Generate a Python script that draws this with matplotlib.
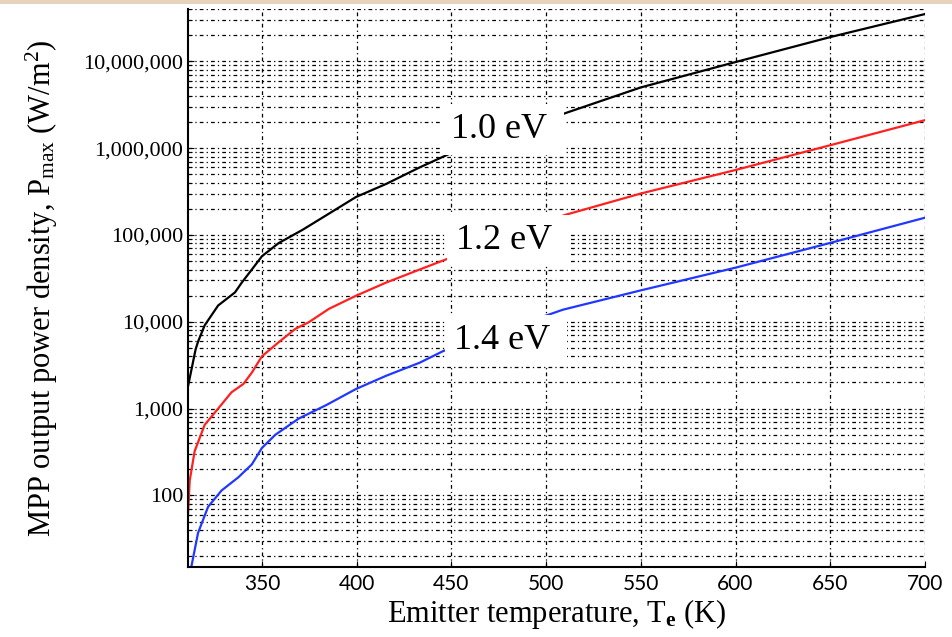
import matplotlib
matplotlib.use("Agg")
import matplotlib.pyplot as plt
from matplotlib.patches import Rectangle
from matplotlib.ticker import LogLocator, FuncFormatter, NullFormatter

plt.rcParams['font.family'] = 'serif'
plt.rcParams['font.serif'] = ['Liberation Serif', 'DejaVu Serif']
plt.rcParams['mathtext.fontset'] = 'custom'
plt.rcParams['mathtext.rm'] = 'Liberation Serif'
plt.rcParams['mathtext.it'] = 'Liberation Serif:italic'
plt.rcParams['mathtext.bf'] = 'Liberation Serif:bold'

# emitter temperature (K) and MPP power density (W/m^2)
temp_10 = [311.0, 313.6, 315.0, 316.3, 319.8, 326.9, 335.8, 339.4, 344.7, 350.0,
           358.8, 371.3, 385.4, 399.6, 415.6, 433.3, 451.0, 511.8, 550.0, 600.0,
           650.0, 700.0]
pmax_10 = [1800, 3400, 4800, 5900, 9100, 15400, 21800, 28300, 40000, 56800,
           80500, 114000, 176000, 273000, 387000, 600000, 900000, 2.6e6, 5.0e6, 9.8e6,
           1.9e7, 3.5e7]

temp_12 = [311.0, 311.9, 314.5, 319.8, 326.9, 334.0, 340.2, 344.7, 350.0, 358.8,
           367.7, 374.8, 385.4, 399.6, 415.6, 433.3, 449.3, 510.0, 550.0, 600.0,
           650.0, 700.0]
pmax_12 = [61, 148, 323, 650, 1000, 1545, 1920, 2600, 4000, 5800,
           8300, 9900, 14100, 19900, 28300, 40000, 54500, 170000, 300000, 560000,
           1.08e6, 2.1e6]

temp_14 = [312.6, 316.3, 321.6, 328.7, 337.6, 344.7, 350.0, 357.1, 369.5, 383.7,
           399.6, 415.6, 433.3, 445.7, 509.0, 550.0, 600.0, 650.0, 700.0]
pmax_14 = [14.5, 37, 74, 114, 162, 228, 352, 500, 770, 1090,
           1680, 2390, 3380, 4600, 13800, 23000, 42000, 81000, 158000]

labels = ['1.0 eV ', '1.2 eV ', '1.4 eV ']
label_temp = [449.6, 452.3, 451.2]
label_pmax = [1.30e6, 69000, 4900]
colors = ['black', '#ff2020', '#2038ff']

x_ticks = [350, 400, 450, 500, 550, 600, 650, 700]
y_ticks = [100, 1000, 10000, 100000, 1000000, 10000000]


def comma_fmt(v, pos):
    return f"{int(round(v)):,}"


def main():
    fig = plt.figure(figsize=(9.53, 6.37), dpi=100)
    fig.patches.append(Rectangle((0, 1 - 4 / 637), 1, 4 / 637, transform=fig.transFigure,
                                 facecolor='#e6d3bb', edgecolor='none', zorder=0))
    ax = fig.add_axes([188 / 953, 70 / 637, 737 / 953, 558 / 637])

    series = [(temp_10, pmax_10), (temp_12, pmax_12), (temp_14, pmax_14)]
    for (t, p), c in zip(series, colors):
        ax.plot(t, p, color=c, linewidth=1.6, zorder=3, solid_joinstyle='round')

    ax.set_yscale('log')
    ax.set_xlim(311, 700)
    ax.set_ylim(15, 4e7)

    ax.set_xticks(x_ticks)
    ax.set_yticks(y_ticks)
    ax.yaxis.set_minor_locator(LogLocator(base=10, subs=range(2, 10), numticks=20))
    ax.yaxis.set_major_formatter(FuncFormatter(comma_fmt))
    ax.yaxis.set_minor_formatter(NullFormatter())

    grid_style = dict(color='black', linestyle=(0, (3, 2.5, 1, 2.5)), linewidth=0.9)
    ax.grid(True, which='major', axis='x', **grid_style)
    ax.grid(True, which='both', axis='y', **grid_style)
    ax.set_axisbelow(True)

    for side in ['top', 'right']:
        ax.spines[side].set_visible(False)
    for side in ['left', 'bottom']:
        ax.spines[side].set_linewidth(1.5)
        ax.spines[side].set_zorder(5)

    ax.tick_params(axis='both', which='both', direction='in')
    ax.tick_params(axis='y', which='major', length=4, pad=3.5, labelsize=16)
    ax.tick_params(axis='y', which='minor', length=3)
    ax.tick_params(axis='x', which='major', length=4, pad=5, labelsize=15,
                   labelfontfamily='Lato')

    for s, t, p in zip(labels, label_temp, label_pmax):
        ax.text(t, p, s, fontsize=26, ha='left', va='baseline', zorder=6,
                bbox=dict(facecolor='white', edgecolor='none', boxstyle='square,pad=0.25'))

    ax.set_xlabel(r"Emitter temperature, T$_{\mathbf{e}}$ (K)", fontsize=22)
    ax.set_ylabel(r"MPP output power density, P$_{\mathrm{max}}$ (W/m$^{2}$)", fontsize=22)
    ax.xaxis.set_label_coords(0.5, -0.054)
    ax.xaxis.label.set_verticalalignment('top')
    ax.yaxis.set_label_coords(-0.173, 0.5)

    fig.savefig('out.png', dpi=100)


if __name__ == "__main__":
    main()
